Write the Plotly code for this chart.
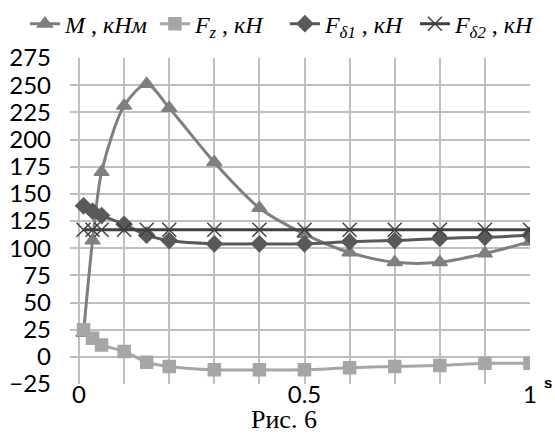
import plotly.graph_objects as go

s_vals = [0.01, 0.03, 0.05, 0.1, 0.15, 0.2, 0.3, 0.4, 0.5, 0.6, 0.7, 0.8, 0.9, 1.0]
M_vals = [22, 107, 170, 231, 251, 229, 179, 137, 113, 96, 87, 87, 95, 106]
Fz_vals = [25, 17, 11, 5, -5, -9, -12, -12, -12, -10, -9, -8, -6, -6]
Fd1_vals = [139, 134, 130, 122, 112, 107, 104, 104, 104, 106, 107, 109, 110, 112]
Fd2_vals = [117] * 14

names = ["<i>M</i> , <i>кНм</i>", "<i>F<sub>z</sub></i> , <i>кН</i>",
         "<i>F<sub>δ1</sub></i> , <i>кН</i>", "<i>F<sub>δ2</sub></i> , <i>кН</i>"]
x_ticks = [0, 0.1, 0.2, 0.3, 0.4, 0.5, 0.6, 0.7, 0.8, 0.9, 1.0]
x_labels = ["0", "", "", "", "", "0.5", "", "", "", "", "1"]
y_ticks = list(range(-25, 276, 25))

fig = go.Figure()
series = [
    (M_vals, "#7f7f7f", "triangle-up", 13),
    (Fz_vals, "#a6a6a6", "square", 12),
    (Fd1_vals, "#595959", "diamond", 12),
    (Fd2_vals, "#404040", "x-thin-open", 14),
]
for (vals, col, sym, sz), nm in zip(series, names):
    fig.add_trace(go.Scatter(
        x=s_vals, y=vals, name=nm, mode="lines+markers",
        line=dict(color=col, width=3, shape="spline", smoothing=0.8),
        marker=dict(symbol=sym, size=sz, color=col, line=dict(color=col, width=1.5)),
    ))

fig.update_layout(
    width=555, height=434,
    margin=dict(l=70, r=25, t=58, b=50, autoexpand=False),
    paper_bgcolor="white", plot_bgcolor="white",
    showlegend=True,
    legend=dict(orientation="h", x=-0.098, y=1.035, xanchor="left", yanchor="bottom",
                font=dict(family="Liberation Serif", size=24, color="black"),
                itemwidth=30, tracegroupgap=0, bgcolor="rgba(0,0,0,0)",
                entrywidth=85, entrywidthmode="pixels"),
    xaxis=dict(range=[-0.02, 1.0], tickvals=x_ticks, ticktext=x_labels,
               showgrid=True, gridcolor="#bfbfbf", gridwidth=1.5, zeroline=False,
               showline=False, ticks="", automargin=False, ticklabelstandoff=-6,
               tickfont=dict(family="Lato", size=24, color="black")),
    yaxis=dict(range=[-25, 275], tickvals=y_ticks,
               showgrid=True, gridcolor="#bfbfbf", gridwidth=1.5, zeroline=False,
               showline=False, ticks="", automargin=False, ticklabelstandoff=18,
               tickfont=dict(family="Lato", size=24, color="black")),
    annotations=[
        dict(text="Рис. 6", xref="paper", yref="paper", x=0.465, y=-0.108,
             xanchor="center", yanchor="middle", showarrow=False,
             font=dict(family="Liberation Serif", size=26, color="black")),
        dict(text="<b>s</b>", xref="paper", yref="paper", x=1.04, y=0.005,
             xanchor="center", yanchor="middle", showarrow=False,
             font=dict(family="Liberation Sans", size=15, color="black", weight="bold")),
    ],
)

fig.write_html("out.html", config={"displayModeBar": False},
               post_script="document.body.style.margin='0';")
